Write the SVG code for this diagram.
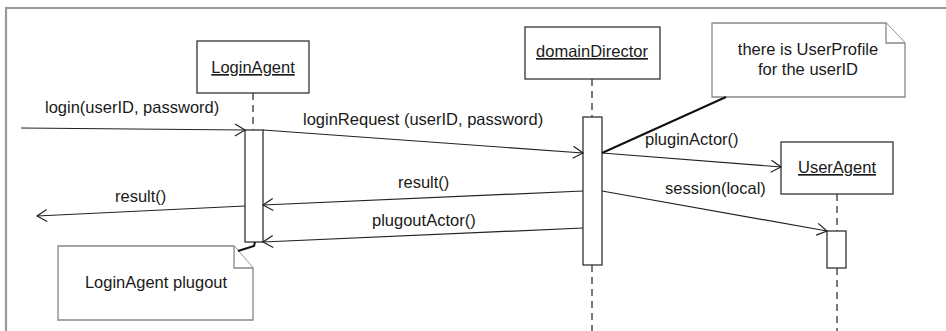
<svg xmlns="http://www.w3.org/2000/svg" width="946" height="331" viewBox="0 0 946 331">
<style>
  text { font-family: "Liberation Sans", Arial, sans-serif; font-size: 16.5px; fill: #1a1a1a; }
  .obj { fill: #fff; stroke: #333; stroke-width: 1.3; }
  .name { text-anchor: middle; text-decoration: underline; }
  .life { stroke: #333; stroke-width: 1.3; stroke-dasharray: 7 5; fill: none; }
  .act { fill: #fff; stroke: #333; stroke-width: 1.3; }
  .msg { stroke: #222; stroke-width: 1.2; fill: none; marker-end: url(#arr); }
  .note { fill: #fff; stroke: #888; stroke-width: 1.3; }
  .link { stroke: #111; stroke-width: 2; fill: none; }
  .frame { stroke: #999; stroke-width: 2.2; fill: none; }
</style>
<defs>
  <marker id="arr" markerUnits="userSpaceOnUse" markerWidth="14" markerHeight="14" refX="11" refY="7" orient="auto">
    <path d="M1,1 L11,7 L1,13" fill="none" stroke="#222" stroke-width="1.2"/>
  </marker>
</defs>
<rect width="946" height="331" fill="#fff"/>
<path class="frame" d="M6,331 L6,8 L946,8"/>

<g id="lifelines">
  <line class="life" x1="253" y1="93" x2="253" y2="130"/>
  <line class="life" x1="592" y1="79" x2="592" y2="117"/>
  <line class="life" x1="592" y1="265" x2="592" y2="331"/>
  <line class="life" x1="837" y1="194" x2="837" y2="231"/>
  <line class="life" x1="837" y1="268" x2="837" y2="331"/>
</g>

<g id="LoginAgent">
  <rect class="obj" x="197" y="41" width="112" height="52"/>
  <text class="name" x="253" y="73">LoginAgent</text>
  <rect class="act" x="245" y="130" width="18" height="112"/>
</g>

<g id="domainDirector">
  <rect class="obj" x="525" y="27" width="135" height="52"/>
  <text class="name" x="592" y="57">domainDirector</text>
  <rect class="act" x="583" y="117" width="19" height="148"/>
</g>

<g id="UserAgent">
  <rect class="obj" x="781" y="142" width="112" height="52"/>
  <text class="name" x="837" y="173">UserAgent</text>
  <rect class="act" x="827" y="231" width="19" height="37"/>
</g>

<g id="note-userprofile">
  <path class="note" d="M712,23 L886,23 L905,43 L905,97 L712,97 Z"/>
  <path class="note" d="M886,23 L886,43 L905,43"/>
  <text x="808" y="55" text-anchor="middle">there is UserProfile</text>
  <text x="808" y="75" text-anchor="middle">for the userID</text>
</g>

<g id="note-plugout">
  <path class="note" d="M58,246 L234,246 L253,268 L253,320 L58,320 Z"/>
  <path class="note" d="M234,246 L234,268 L253,268"/>
  <text x="156" y="288" text-anchor="middle">LoginAgent plugout</text>
</g>

<g id="connectors">
  <line class="msg" x1="21" y1="128" x2="245" y2="130"/>
  <text x="45" y="113">login(userID, password)</text>

  <line class="msg" x1="263" y1="130" x2="583" y2="153"/>
  <text x="303" y="125">loginRequest (userID, password)</text>

  <line class="link" x1="602" y1="153" x2="726" y2="97"/>

  <line class="msg" x1="602" y1="153" x2="781" y2="167"/>
  <text x="645" y="145">pluginActor()</text>

  <line class="msg" x1="602" y1="191" x2="827" y2="231"/>
  <text x="665" y="194">session(local)</text>

  <line class="msg" x1="583" y1="191" x2="263" y2="205"/>
  <text x="398" y="188">result()</text>

  <line class="msg" x1="583" y1="228" x2="263" y2="242"/>
  <text x="372" y="226">plugoutActor()</text>

  <line class="msg" x1="245" y1="206" x2="37" y2="216"/>
  <text x="115" y="202">result()</text>

  <polyline class="link" stroke-width="1.6" points="255,242 254,246 238,251"/>
</g>
</svg>
